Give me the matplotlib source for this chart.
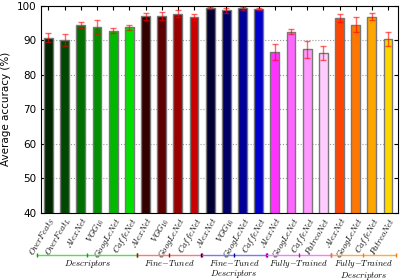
import numpy as np
import matplotlib
matplotlib.use('Agg')
import matplotlib.pyplot as plt
import matplotlib.transforms as mtransforms

plt.rcParams['mathtext.fontset'] = 'cm'

# --- data ---
groups = [r'$Descriptors$', r'$Fine{-}Tuned$',
          "$Fine{-}Tuned$\n$Descriptors$", r'$Fully{-}Trained$',
          "$Fully{-}Trained$\n$Descriptors$"]
group_sizes = [6, 4, 4, 4, 4]
group_colors = ['#55dd55', '#ff7777', '#7777ff', '#ff77ff', '#ffaa44']
group_tick_colors = ['#00aa00', '#cc0000', '#0000aa', '#cc00cc', '#ff7700']

labels = [r'$OverFeat_S$', r'$OverFeat_L$', r'$AlexNet$', r'$VGG_{16}$', r'$GoogLeNet$', r'$CaffeNet$',
          r'$AlexNet$', r'$VGG_{16}$', r'$GoogLeNet$', r'$CaffeNet$',
          r'$AlexNet$', r'$VGG_{16}$', r'$GoogLeNet$', r'$CaffeNet$',
          r'$AlexNet$', r'$GoogLeNet$', r'$CaffeNet$', r'$PatreoNet$',
          r'$AlexNet$', r'$GoogLeNet$', r'$CaffeNet$', r'$PatreoNet$']
acc = [90.8, 90.1, 94.4, 93.8, 92.8, 93.8,
       97.0, 97.1, 97.7, 96.8,
       99.4, 98.7, 99.3, 99.1,
       86.6, 92.5, 87.4, 86.3,
       96.5, 94.6, 96.9, 90.4]
err = [1.3, 1.7, 0.8, 2.0, 0.7, 0.7,
       1.0, 1.2, 1.0, 0.9,
       0.4, 0.7, 0.5, 0.3,
       2.4, 0.7, 2.5, 2.0,
       1.2, 2.2, 1.1, 1.9]
colors = ['#002800', '#004800', '#007000', '#009000', '#00b800', '#00e000',
          '#330000', '#5c0000', '#990000', '#cc0000',
          '#000033', '#000066', '#000099', '#0000cc',
          '#ff33ff', '#ff66ff', '#ff99ff', '#ffccff',
          '#ff4500', '#ff7700', '#ffa500', '#ffd700']

fig = plt.figure(figsize=(4.19, 2.80), dpi=100)
ax = fig.add_axes([0.098, 0.240, 0.852, 0.739])

x = np.arange(len(acc))
ax.bar(x, acc, width=0.55, color=colors, edgecolor='#777777', linewidth=1.0, zorder=2)
ax.errorbar(x, acc, yerr=err, fmt='none', ecolor='red', alpha=0.6,
            elinewidth=1.0, capsize=2, capthick=1.0, zorder=3)

ax.set_ylim(40, 100)
ax.set_xlim(-0.46, 21.62)
ax.set_yticks(np.arange(40, 101, 10))
ax.yaxis.grid(True, linestyle=':', color='#999999', linewidth=0.8, zorder=0)
ax.set_axisbelow(True)
ax.tick_params(axis='both', labelsize=7.5, direction='in', length=3, top=True, right=True)
ax.tick_params(axis='x', pad=2)
ax.set_ylabel('Average accuracy (%)', fontsize=7.5)
ax.set_xticks(x)
ax.set_xticklabels(labels, rotation=60, ha='right', rotation_mode='anchor', fontsize=6.3)

# group brackets under the tick labels
trans = mtransforms.blended_transform_factory(ax.transData, ax.transAxes)
start = 0
for name, n, c, tc in zip(groups, group_sizes, group_colors, group_tick_colors):
    x0 = start - 0.7 if start == 0 else start - 0.55
    x1 = start + n - 0.5
    mid = (x0 + x1) / 2
    ax.plot([x0, x1], [-0.202, -0.202], color=c, lw=1.0, transform=trans, clip_on=False)
    ax.plot([x0, x1, mid], [-0.202, -0.202, -0.202], ls='none', marker='|', ms=3,
            color=tc, mew=1.0, transform=trans, clip_on=False)
    ax.text(mid, -0.218, name, transform=trans, ha='center', va='top', fontsize=6.3,
            linespacing=0.95)
    start += n

fig.savefig('out.png', dpi=100)
